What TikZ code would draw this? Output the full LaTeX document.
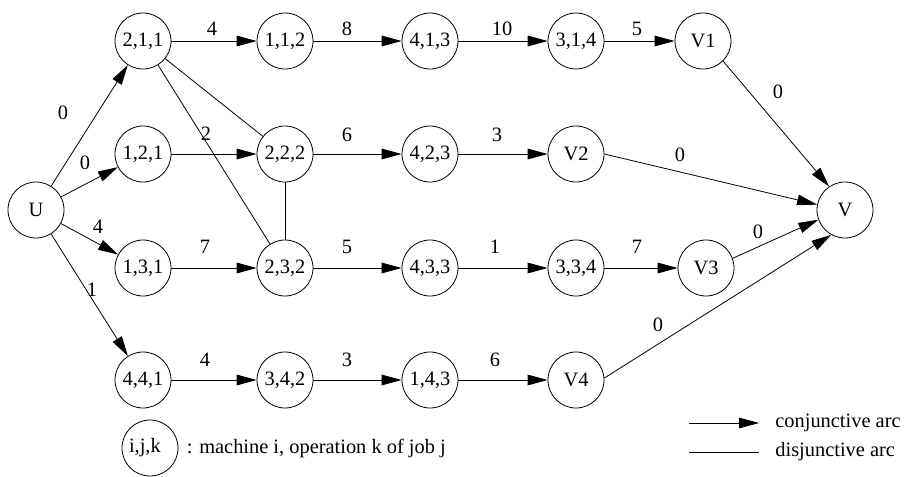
\documentclass[tikz,border=0pt]{standalone}
\usepackage{fontspec}
\setmainfont{Liberation Serif}
\usetikzlibrary{arrows.meta,positioning}
\tikzset{
  op/.style={draw=black, circle, minimum size=42pt, inner sep=0pt},
  wt/.style={inner sep=0pt},
  conj/.style={-{Triangle[length=15pt,width=8pt]}},
}
\begin{document}
\begin{tikzpicture}[x=0.75pt,y=-0.75pt,line width=0.6pt,font=\fontsize{15.3}{18}\selectfont]
    \useasboundingbox (0,0) rectangle (907,476);
    % operations
    \node[op] (U) at (36,210) {U};
    \node[op] (o211) at (143,41) {2,1,1};
    \node[op] (o112) at (285,41) {1,1,2};
    \node[op] (o413) at (430,41) {4,1,3};
    \node[op] (o314) at (576,41) {3,1,4};
    \node[op] (V1) at (703,41) {V1};
    \node[op] (o121) at (143,154) {1,2,1};
    \node[op] (o222) at (285,154) {2,2,2};
    \node[op] (o423) at (430,154) {4,2,3};
    \node[op] (V2) at (576,154) {V2};
    \node[op] (o131) at (143,268) {1,3,1};
    \node[op] (o232) at (285,268) {2,3,2};
    \node[op] (o433) at (430,268) {4,3,3};
    \node[op] (o334) at (576,268) {3,3,4};
    \node[op] (V3) at (706,268) {V3};
    \node[op] (o441) at (143,380) {4,4,1};
    \node[op] (o342) at (285,380) {3,4,2};
    \node[op] (o143) at (430,380) {1,4,3};
    \node[op] (V4) at (576,380) {V4};
    \node[op] (V) at (845,210) {V};
    % conjunctive arcs
    \path [conj] (U) edge (o211);
    \path [conj] (U) edge (o121);
    \path [conj] (U) edge (o131);
    \path [conj] (U) edge (o441);
    \path [conj] (o211) edge (o112);
    \path [conj] (o112) edge (o413);
    \path [conj] (o413) edge (o314);
    \path [conj] (o314) edge (V1);
    \path [conj] (V1.-45) edge (V.124);
    \path [conj] (o121) edge (o222);
    \path [conj] (o222) edge (o423);
    \path [conj] (o423) edge (V2);
    \path [conj] (V2.0) edge (V.169);
    \path [conj] (o131) edge (o232);
    \path [conj] (o232) edge (o433);
    \path [conj] (o433) edge (o334);
    \path [conj] (o334) edge (V3);
    \path [conj] (V3.20) edge (V.200);
    \path [conj] (o441) edge (o342);
    \path [conj] (o342) edge (o143);
    \path [conj] (o143) edge (V4);
    \path [conj] (V4.4) edge (V.241);
    % disjunctive arcs
    \path (o211) edge (o222);
    \path (o211) edge (o232);
    \path (o222) edge (o232);
    % weights
    \node[wt] (wa) at (63,113) {0};
    \node[wt] (wb) at (85,163) {0};
    \node[wt] (wc) at (98,227) {4};
    \node[wt] (wd) at (92,290) {1};
    \node[wt] (we) at (212,29) {4};
    \node[wt] (wf) at (347,29) {8};
    \node[wt] (wg) at (502,29) {10};
    \node[wt] (wh) at (637,29) {5};
    \node[wt] (wi) at (778,92) {0};
    \node[wt] (wj) at (206,134) {2};
    \node[wt] (wk) at (347,135) {6};
    \node[wt] (wl) at (497,135) {3};
    \node[wt] (wm) at (680,155) {0};
    \node[wt] (wn) at (205,247) {7};
    \node[wt] (wo) at (347,247) {5};
    \node[wt] (wp) at (495,247) {1};
    \node[wt] (wq) at (637,247) {7};
    \node[wt] (wr) at (758,232) {0};
    \node[wt] (ws) at (205,360) {4};
    \node[wt] (wt) at (347,360) {3};
    \node[wt] (wu) at (495,360) {6};
    \node[wt] (wv) at (658,325) {0};
    % legend
    \node[op] (key) at (150,448) {i,j,k\enspace};
    \node[right=6pt of key, inner sep=0pt] (keytxt) {: machine i, operation k of job j};
    \coordinate (c1) at (689,423);
    \coordinate (c2) at (759,423);
    \coordinate (d1) at (689,452);
    \coordinate (d2) at (759,452);
    \path [conj] (c1) edge (c2);
    \path (d1) edge (d2);
    \node[wt, anchor=west] (conjtxt) at (775,423) {conjunctive arc};
    \node[wt, anchor=west] (disjtxt) at (775,452) {disjunctive arc};
\end{tikzpicture}
\end{document}
